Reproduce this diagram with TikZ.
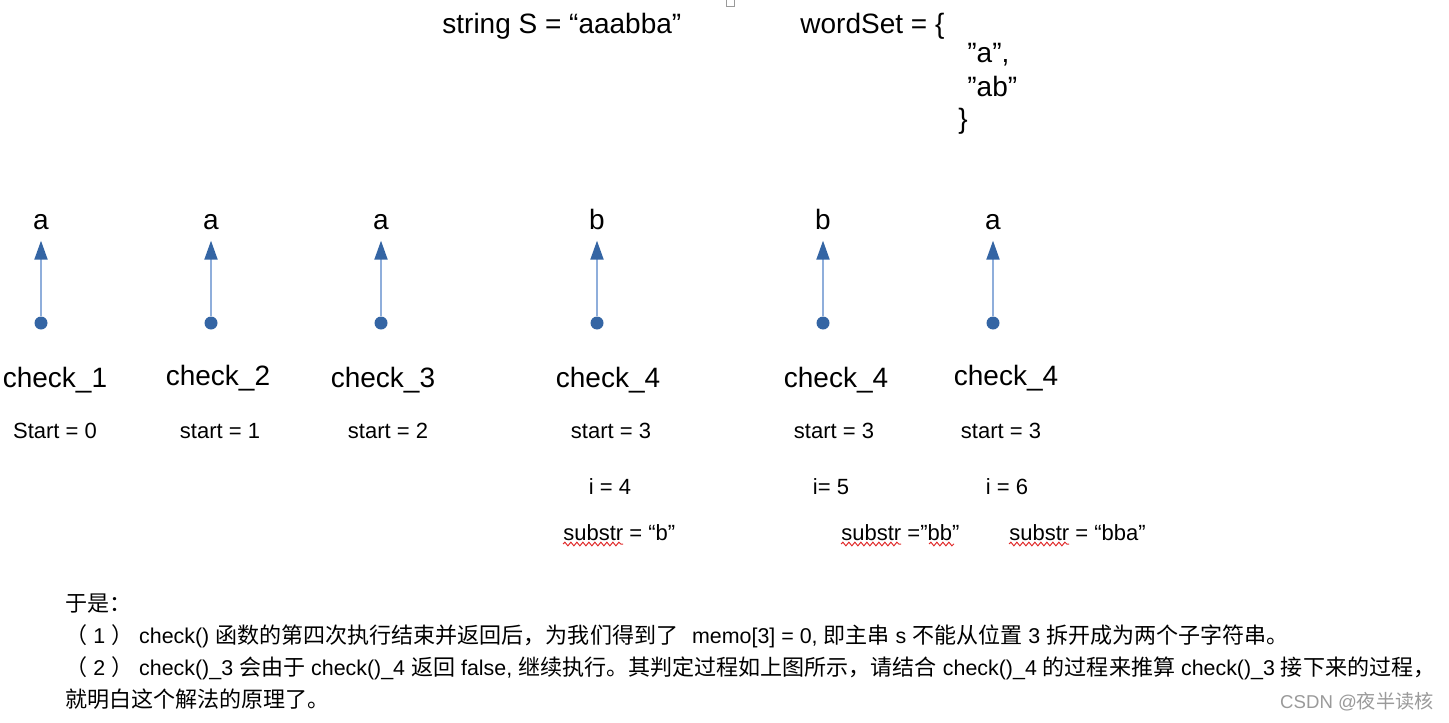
\documentclass[tikz,border=0pt]{standalone}
\usepackage{fontspec}
\setmainfont{Liberation Sans}
\newfontfamily\cjk[Scale=1.03]{Noto Sans CJK SC}
\newcommand{\zh}[1]{{\cjk #1}}
\usetikzlibrary{arrows.meta,decorations.pathmorphing}
\definecolor{bleu}{HTML}{3465A4}
\definecolor{bleuclair}{HTML}{8FAEDB}
\definecolor{rouge}{HTML}{E02A2A}
\definecolor{gris}{HTML}{9A9A9A}

\begin{document}
\begin{tikzpicture}[x=0.5pt,y=-0.5pt,
  big/.style={font=\fontsize{14}{16}\selectfont,inner sep=0pt,anchor=base},
  small/.style={font=\fontsize{11}{13}\selectfont,inner sep=0pt,anchor=base},
  note/.style={font=\fontsize{10.7}{13}\selectfont,inner sep=0pt,anchor=base west},
  dot/.style={circle,fill=bleu,inner sep=0pt,minimum size=6.5pt},
  ptr/.style={draw=bleuclair,line width=1pt,shorten >=5.5pt,-{Triangle[length=9.5pt,width=6.5pt,color=bleu]}},
  wavy/.style={draw=rouge,line width=0.5pt,decorate,decoration={snake,amplitude=0.9pt,segment length=3pt}}]
  \useasboundingbox (0,0) rectangle (1449,722);
  % Donnees
  \node[big,anchor=base west] (str) at (442,34) {string S = “aaabba”};
  \node[draw=gris,fill=white,inner sep=0pt,minimum width=4pt,minimum height=3.5pt] (mark) at (730.5,3) {};
  \node[big,anchor=base west] (ws) at (800,34) {wordSet = \{};
  \node[big,anchor=base west] (w1) at (967,63) {”a”,};
  \node[big,anchor=base west] (w2) at (967,97) {”ab”};
  \node[big,anchor=base west] (wf) at (958,128) {\}};
  % Lettres
  \node[big] (l1) at (41,229) {a};
  \node[big] (l2) at (211,229) {a};
  \node[big] (l3) at (381,229) {a};
  \node[big] (l4) at (597,229) {b};
  \node[big] (l5) at (823,229) {b};
  \node[big] (l6) at (993,229) {a};
  % Points
  \node[dot] (p1) at (41,323) {};
  \node[dot] (p2) at (211,323) {};
  \node[dot] (p3) at (381,323) {};
  \node[dot] (p4) at (597,323) {};
  \node[dot] (p5) at (823,323) {};
  \node[dot] (p6) at (993,323) {};
  \draw[ptr] (p1) -- (l1);
  \draw[ptr] (p2) -- (l2);
  \draw[ptr] (p3) -- (l3);
  \draw[ptr] (p4) -- (l4);
  \draw[ptr] (p5) -- (l5);
  \draw[ptr] (p6) -- (l6);
  % Appels
  \node[big] (ck1) at (55,387) {check\_1};
  \node[big] (ck2) at (218,385) {check\_2};
  \node[big] (ck3) at (383,387) {check\_3};
  \node[big] (ck4) at (608,387) {check\_4};
  \node[big] (ck5) at (836,387) {check\_4};
  \node[big] (ck6) at (1006,385) {check\_4};
  \node[small] (st1) at (55,438) {Start = 0};
  \node[small] (st2) at (220,438) {start = 1};
  \node[small] (st3) at (388,438) {start = 2};
  \node[small] (st4) at (611,438) {start = 3};
  \node[small] (st5) at (834,438) {start = 3};
  \node[small] (st6) at (1001,438) {start = 3};
  \node[small] (i4) at (610,494) {i = 4};
  \node[small] (i5) at (831,494) {i= 5};
  \node[small] (i6) at (1007,494) {i = 6};
  \node[small,anchor=base west] (sb4) at (563,540) {substr = “b”};
  \node[small,anchor=base west] (sb5) at (841,540) {substr =”bb”};
  \node[small,anchor=base west] (sb6) at (1009,540) {substr = “bba”};
  \draw[wavy] (563,544) -- (623,544);
  \draw[wavy] (841,544) -- (901,544);
  \draw[wavy] (929,544) -- (954,544);
  \draw[wavy] (1009,544) -- (1069,544);
  % Texte
  \node[note] (t0) at (65,611) {\zh{于是：}};
  \node[note] (t1) at (65,643) {\zh{（} 1 \zh{）} check() \zh{函数的第四次执行结束并返回后，为我们得到了}\hspace{4pt} memo[3] = 0, \zh{即主串} s \zh{不能从位置} 3 \zh{拆开成为两个子字符串。}};
  \node[note] (t2) at (65,675) {\zh{（} 2 \zh{）} check()\_3 \zh{会由于} check()\_4 \zh{返回} false, \zh{继续执行。其判定过程如上图所示，请结合} check()\_4 \zh{的过程来推算} check()\_3 \zh{接下来的过程，}};
  \node[note] (t3) at (65,707) {\zh{就明白这个解法的原理了。}};
  \node[font=\fontsize{9.3}{11}\selectfont,text=gris,inner sep=0pt,anchor=base east] (wm) at (1434,708) {CSDN @\zh{夜半读核}};
\end{tikzpicture}
\end{document}
